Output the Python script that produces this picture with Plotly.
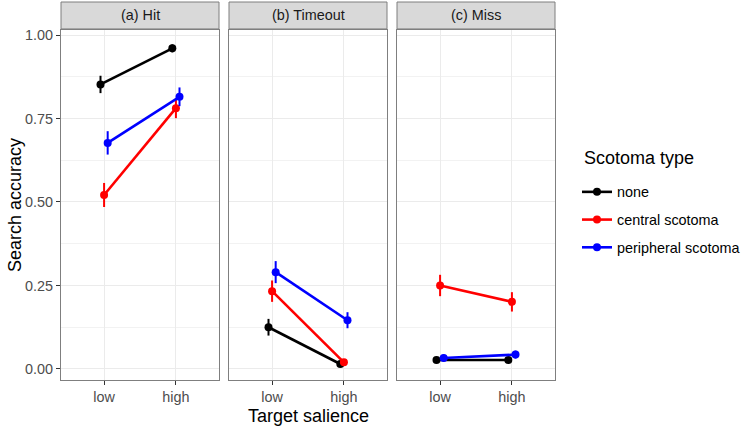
import plotly.graph_objects as go
from plotly.subplots import make_subplots

panels = ["(a) Hit", "(b) Timeout", "(c) Miss"]
salience = ["low", "high"]
groups = ["none", "central scotoma", "peripheral scotoma"]
colors = {"none": "black", "central scotoma": "#FF0000", "peripheral scotoma": "#0000FF"}

# mean accuracy per panel, per group: [low, high]
hit_mean = {"none": [0.852, 0.960], "central scotoma": [0.521, 0.781], "peripheral scotoma": [0.677, 0.815]}
hit_err = {"none": [0.026, 0.012], "central scotoma": [0.036, 0.030], "peripheral scotoma": [0.035, 0.028]}
timeout_mean = {"none": [0.125, 0.015], "central scotoma": [0.233, 0.020], "peripheral scotoma": [0.290, 0.146]}
timeout_err = {"none": [0.025, 0.008], "central scotoma": [0.032, 0.008], "peripheral scotoma": [0.033, 0.024]}
miss_mean = {"none": [0.027, 0.027], "central scotoma": [0.250, 0.201], "peripheral scotoma": [0.033, 0.043]}
miss_err = {"none": [0.006, 0.006], "central scotoma": [0.032, 0.029], "peripheral scotoma": [0.010, 0.012]}

y_ticks = [0.0, 0.25, 0.5, 0.75, 1.0]
y_tick_labels = ["0.00", "0.25", "0.50", "0.75", "1.00"]

means = [hit_mean, timeout_mean, miss_mean]
errs = [hit_err, timeout_err, miss_err]
dodge = {"none": -0.05, "central scotoma": 0.0, "peripheral scotoma": 0.05}

fig = make_subplots(rows=1, cols=3, shared_yaxes=True, horizontal_spacing=10 / 494)

for p in range(3):
    for g in groups:
        xs = [i + 1 + dodge[g] for i in range(len(salience))]
        fig.add_trace(go.Scatter(
            x=xs, y=means[p][g],
            mode="lines+markers",
            line=dict(color=colors[g], width=2.6),
            marker=dict(color=colors[g], size=8),
            error_y=dict(type="data", array=errs[p][g], color=colors[g], thickness=2, width=0),
            name=g, legendgroup=g, showlegend=(p == 0),
        ), row=1, col=p + 1)

grid = "#EBEBEB"
small = 14.4
big = 18
for p in range(3):
    fig.update_xaxes(
        range=[0.4, 2.6], tickvals=[1, 2], ticktext=salience,
        showgrid=True, gridcolor=grid, gridwidth=1, zeroline=False,
        ticks="outside", ticklen=4, tickcolor="#333333",
        tickfont=dict(size=small, color="#4D4D4D"),
        showline=True, linecolor="#7F7F7F", linewidth=1, mirror=True,
        row=1, col=p + 1)
    fig.update_yaxes(
        range=[-0.033, 1.015], tickvals=y_ticks, ticktext=y_tick_labels,
        showgrid=True, gridcolor=grid, gridwidth=1, zeroline=False,
        minor=dict(tickvals=[0.125, 0.375, 0.625, 0.875], showgrid=True, gridcolor="#F2F2F2", gridwidth=0.5),
        ticks="outside" if p == 0 else "", ticklen=4, tickcolor="#333333",
        tickfont=dict(size=small, color="#4D4D4D"),
        showline=True, linecolor="#7F7F7F", linewidth=1, mirror=True,
        row=1, col=p + 1)

# facet strips
strip_h = 28 / 350
for p, label in enumerate(panels):
    ax = fig.layout["xaxis" if p == 0 else f"xaxis{p + 1}"]
    x0, x1 = ax.domain
    fig.add_shape(type="rect", xref="paper", yref="paper", x0=x0, x1=x1, y0=1.003, y1=1 + strip_h,
                  fillcolor="#D9D9D9", line=dict(color="#7F7F7F", width=1))
    fig.add_annotation(text=label, xref="paper", yref="paper", x=(x0 + x1) / 2, y=1 + strip_h / 2 + 0.002,
                       xanchor="center", yanchor="middle", showarrow=False,
                       font=dict(size=small, color="#1A1A1A"))

fig.add_annotation(text="Target salience", xref="paper", yref="paper", x=0.5, y=-0.103,
                   xanchor="center", yanchor="middle", showarrow=False, font=dict(size=big, color="black"))
fig.add_annotation(text="Search accuracy", xref="paper", yref="paper", x=-0.093, y=0.5,
                   textangle=-90, xanchor="center", yanchor="middle", showarrow=False,
                   font=dict(size=big, color="black"))
fig.add_annotation(text="Scotoma type", xref="paper", yref="paper", x=(582 - 61) / 494, y=(380 - 158) / 350,
                   xanchor="left", yanchor="middle", showarrow=False, font=dict(size=big, color="black"))

fig.update_layout(
    width=750, height=426,
    margin=dict(l=61, r=195, t=30, b=46),
    plot_bgcolor="white", paper_bgcolor="white",
    font=dict(family="Liberation Sans, Arial, sans-serif"),
    legend=dict(
        xref="container", yref="container",
        x=577 / 750, y=(426 - 176) / 426, xanchor="left", yanchor="top",
        font=dict(size=small, color="black"),
        tracegroupgap=6, itemwidth=30,
    ),
)

fig.write_html("out.html", config={"displayModeBar": False},
               post_script="document.body.style.margin='0';")
